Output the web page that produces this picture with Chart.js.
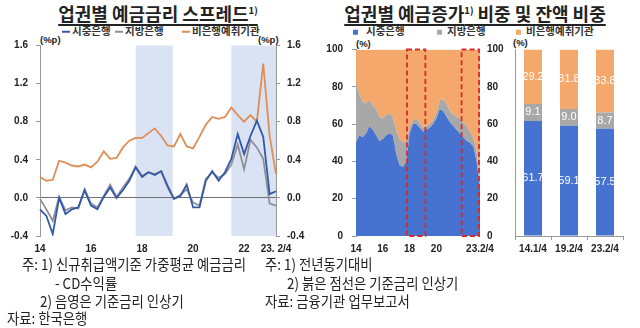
<!DOCTYPE html>
<html>
<head>
<meta charset="utf-8">
<script src="https://cdn.jsdelivr.net/npm/chart.js@4"></script>
<style>
body{margin:0;width:640px;height:328px;background:#fff;position:relative;overflow:hidden;font-family:"Noto Sans CJK KR",sans-serif;color:#222}
canvas{position:absolute;top:0}
.t{position:absolute;white-space:nowrap;line-height:1}
.title{font-size:18px;font-weight:700;text-decoration:underline;text-decoration-thickness:1.5px;text-underline-offset:3px;transform:translate(-50%,-50%)}
.title sup{font-size:9.5px;vertical-align:7px;text-decoration:none}
.leg{font-size:10.5px;font-weight:700;color:#333;transform:translateY(-50%)}
.leg i{display:inline-block;vertical-align:middle;margin-right:2px}
.unit{font-family:"Liberation Sans",Arial,sans-serif;font-size:9.5px;font-weight:700;transform:translateY(-50%)}
.note{font-size:15px;transform:translateY(-50%) scaleX(.89);transform-origin:0 50%}
</style>
</head>
<body>
<div class="t title" style="left:158px;top:13px">업권별 예금금리 스프레드<sup>1)</sup></div>
<div class="t title" style="left:475px;top:13px">업권별 예금증가<sup>1)</sup> 비중 및 잔액 비중</div>

<div class="t leg" style="left:62px;top:31px"><i style="width:8px;height:2px;background:#3458a8"></i>시중은행</div>
<div class="t leg" style="left:115px;top:31px"><i style="width:8px;height:2px;background:#8e9096"></i>지방은행</div>
<div class="t leg" style="left:182px;top:31px"><i style="width:8px;height:2px;background:#e08e57"></i>비은행예취기관</div>

<div class="t leg" style="left:353px;top:31px"><i style="width:5px;height:5px;background:#4673cf;margin-right:8px"></i>시중은행</div>
<div class="t leg" style="left:437px;top:31px"><i style="width:5px;height:5px;background:#a8a8a8;margin-right:5px"></i>지방은행</div>
<div class="t leg" style="left:516px;top:31px"><i style="width:5px;height:5px;background:#f4a86c;margin-right:5px"></i>비은행예취기관</div>

<div class="t unit" style="left:40px;top:40px">(%p)</div>
<div class="t unit" style="left:258px;top:40px">(%p)</div>
<div class="t unit" style="left:356px;top:44px">(%)</div>
<div class="t unit" style="left:513px;top:43px">(%)</div>

<canvas id="spread" width="310" height="256"></canvas>
<canvas id="share" width="200" height="256" style="left:310px"></canvas>
<canvas id="balance" width="135" height="256" style="left:505px"></canvas>

<div class="t note" style="left:22px;top:263px">주: 1) 신규취급액기준 가중평균 예금금리</div>
<div class="t note" style="left:55px;top:282px">- CD수익률</div>
<div class="t note" style="left:40px;top:300px">2) 음영은 기준금리 인상기</div>
<div class="t note" style="left:7px;top:317px">자료: 한국은행</div>
<div class="t note" style="left:265px;top:263px">주: 1) 전년동기대비</div>
<div class="t note" style="left:287px;top:282px">2) 붉은 점선은 기준금리 인상기</div>
<div class="t note" style="left:265px;top:300px">자료: 금융기관 업무보고서</div>

<script>
const quarters = ['14.1/4','14.2/4','14.3/4','14.4/4','15.1/4','15.2/4','15.3/4','15.4/4',
  '16.1/4','16.2/4','16.3/4','16.4/4','17.1/4','17.2/4','17.3/4','17.4/4',
  '18.1/4','18.2/4','18.3/4','18.4/4','19.1/4','19.2/4','19.3/4','19.4/4',
  '20.1/4','20.2/4','20.3/4','20.4/4','21.1/4','21.2/4','21.3/4','21.4/4',
  '22.1/4','22.2/4','22.3/4','22.4/4','23.1/4','23.2/4'];

// 예금금리 스프레드 (%p)
const spreadCommercial = [-0.12,-0.19,-0.38,0.00,-0.17,-0.12,-0.10,0.08,-0.08,-0.12,0.01,0.11,0.00,0.08,0.18,0.32,
  0.22,0.27,0.24,0.28,0.13,-0.01,0.02,0.14,-0.10,-0.10,0.18,0.28,0.18,0.27,0.41,0.67,0.46,0.65,0.81,0.64,0.04,0.07];
const spreadRegional = [-0.01,-0.12,-0.24,0.01,-0.13,-0.10,-0.11,0.09,-0.06,-0.10,0.02,0.14,0.01,0.11,0.20,0.33,
  0.23,0.27,0.25,0.28,0.11,-0.01,0.03,0.09,-0.05,-0.08,0.20,0.27,0.21,0.25,0.35,0.56,0.30,0.61,0.53,0.41,-0.06,-0.08];
const spreadNonBank = [0.22,0.18,0.19,0.39,0.37,0.34,0.33,0.35,0.32,0.38,0.49,0.41,0.42,0.53,0.60,0.63,
  0.63,0.68,0.73,0.65,0.55,0.54,0.67,0.54,0.52,0.64,0.77,0.85,0.83,0.85,0.95,0.87,0.80,0.87,0.80,1.41,0.65,0.25];
const spreadTickIdx = [0, 8, 16, 24, 32, 37];
const spreadTickText = ['14', '16', '18', '20', '22', '23. 2/4'];
const hikeShade = [[15, 20.8], [30, 37]];

// 예금증가 비중 (%)
const shareCommercial = [50,54,53,55,59,57,54,51,52,54,55,54,44,38,37,40,55,60,60,58,56,57,58,60,63,68,67,64,61,59,57,55,53,51,50,48,40,25];
const shareRegional = [32,22,19,16,14,13,14,13,11,11,11,10,13,14,13,11,3,2,3,3,2,2,2,2,3,5,6,7,6,6,7,8,8,8,6,5,5,4];
const shareNonBank = [18,24,28,29,27,30,32,36,37,35,34,36,43,48,50,49,42,38,37,39,42,41,40,38,34,27,27,29,33,35,36,37,39,41,44,47,55,71];
const shareTickIdx = [0, 8, 16, 24, 37];
const shareTickText = ['14', '16', '18', '20', '23.2/4'];
const hikeBoxes = [[15.2, 21], [31.5, 37]];

// 잔액 비중 (%)
const balanceCats = ['14.1/4', '19.2/4', '23.2/4'];
const balanceCommercial = [61.7, 59.1, 57.5];
const balanceRegional = [9.1, 9.0, 8.7];
const balanceNonBank = [29.2, 31.8, 33.8];

Chart.defaults.font.family = '"Liberation Sans", Arial, sans-serif';
Chart.defaults.color = '#222';
Chart.defaults.animation = false;

const tickFont = {size: 10, weight: 'bold'};
const fixWidth = w => (axis => { axis.width = w; });
const fixHeight = h => (axis => { axis.height = h; });

const shadePlugin = {
  id: 'shade',
  beforeDraw(chart) {
    const {ctx, chartArea: a, scales: {x}} = chart;
    ctx.save();
    ctx.fillStyle = '#dae3f3';
    hikeShade.forEach(([s, e]) => {
      const x0 = x.getPixelForValue(s), x1 = x.getPixelForValue(e);
      ctx.fillRect(x0, a.top, x1 - x0, a.bottom - a.top);
    });
    ctx.restore();
  }
};

const boxPlugin = {
  id: 'boxes',
  afterDatasetsDraw(chart) {
    const {ctx, chartArea: a, scales: {x}} = chart;
    ctx.save();
    ctx.strokeStyle = '#d62a2a';
    ctx.lineWidth = 1.8;
    ctx.setLineDash([5, 3]);
    hikeBoxes.forEach(([s, e]) => {
      const x0 = x.getPixelForValue(s), x1 = x.getPixelForValue(e);
      ctx.strokeRect(x0, a.top, x1 - x0 - 1, a.bottom - a.top);
    });
    ctx.restore();
  }
};

const barLabelPlugin = {
  id: 'barLabels',
  afterDatasetsDraw(chart) {
    const ctx = chart.ctx;
    ctx.save();
    ctx.fillStyle = '#fff';
    ctx.font = '11px "Liberation Sans", Arial, sans-serif';
    ctx.textAlign = 'center';
    ctx.textBaseline = 'middle';
    chart.data.datasets.forEach((ds, di) => {
      chart.getDatasetMeta(di).data.forEach((bar, i) => {
        ctx.fillText(ds.data[i].toFixed(1), bar.x, (bar.y + bar.base) / 2);
      });
    });
    ctx.restore();
  }
};

const lineDs = (label, data, color) => ({
  label, data, borderColor: color, borderWidth: 1.8, pointRadius: 0, tension: 0, fill: false
});

new Chart(document.getElementById('spread'), {
  type: 'line',
  data: {
    labels: quarters,
    datasets: [
      lineDs('시중은행', spreadCommercial, '#3458a8'),
      lineDs('지방은행', spreadRegional, '#8e9096'),
      lineDs('비은행예취기관', spreadNonBank, '#e08e57')
    ]
  },
  options: {
    responsive: false,
    layout: {padding: {top: 45.5}},
    plugins: {legend: {display: false}, tooltip: {enabled: false}},
    scales: {
      x: {
        afterFit: fixHeight(20),
        grid: {display: false, drawTicks: false},
        border: {display: false},
        ticks: {
          autoSkip: false, maxRotation: 0, padding: 7, font: tickFont,
          callback: (v, i) => {
            const k = spreadTickIdx.indexOf(i);
            return k < 0 ? '' : spreadTickText[k];
          }
        }
      },
      y: {
        min: -0.4, max: 1.6,
        afterFit: fixWidth(40),
        border: {color: '#999'},
        grid: {
          color: c => c.tick && c.tick.value === 0 ? '#6f6f6f' : 'rgba(0,0,0,0)',
          tickColor: '#999', tickLength: 4
        },
        ticks: {stepSize: 0.4, padding: 8, font: tickFont, callback: v => v.toFixed(1)}
      },
      y2: {
        position: 'right', min: -0.4, max: 1.6,
        afterFit: fixWidth(34),
        border: {color: '#999'},
        grid: {drawOnChartArea: false, tickColor: '#999', tickLength: 4},
        ticks: {stepSize: 0.4, padding: 7, font: tickFont, callback: v => v.toFixed(1)}
      }
    }
  },
  plugins: [shadePlugin]
});

const areaDs = (label, data, color, fill) => ({
  label, data, backgroundColor: color, borderColor: color, borderWidth: 0,
  pointRadius: 0, fill, tension: 0
});

new Chart(document.getElementById('share'), {
  type: 'line',
  data: {
    labels: quarters,
    datasets: [
      areaDs('시중은행', shareCommercial, '#4673cf', 'origin'),
      areaDs('지방은행', shareRegional, '#a8a8a8', '-1'),
      areaDs('비은행예취기관', shareNonBank, '#f4a86c', '-1')
    ]
  },
  options: {
    responsive: false,
    layout: {padding: {top: 49.5}},
    plugins: {legend: {display: false}, tooltip: {enabled: false}},
    scales: {
      x: {
        afterFit: fixHeight(20),
        grid: {display: false, drawTicks: false},
        border: {display: false},
        ticks: {
          autoSkip: false, maxRotation: 0, padding: 7, font: tickFont,
          callback: (v, i) => {
            const k = shareTickIdx.indexOf(i);
            return k < 0 ? '' : shareTickText[k];
          }
        }
      },
      y: {
        stacked: true, min: 0, max: 100,
        afterFit: fixWidth(46),
        border: {color: '#999'},
        grid: {drawOnChartArea: false, tickColor: '#999', tickLength: 4},
        ticks: {stepSize: 20, padding: 9, font: tickFont}
      },
      y2: {
        position: 'right', min: 0, max: 100,
        afterFit: fixWidth(30),
        border: {display: false},
        grid: {drawOnChartArea: false, drawTicks: false},
        ticks: {stepSize: 20, padding: 7, font: tickFont}
      }
    }
  },
  plugins: [boxPlugin]
});

new Chart(document.getElementById('balance'), {
  type: 'bar',
  data: {
    labels: balanceCats,
    datasets: [
      {label: '시중은행', data: balanceCommercial, backgroundColor: '#4673cf'},
      {label: '지방은행', data: balanceRegional, backgroundColor: '#a8a8a8'},
      {label: '비은행예취기관', data: balanceNonBank, backgroundColor: '#f4a86c'}
    ]
  },
  options: {
    responsive: false,
    layout: {padding: {top: 49.5, right: 17}},
    barPercentage: 0.5,
    categoryPercentage: 1,
    plugins: {legend: {display: false}, tooltip: {enabled: false}},
    scales: {
      x: {
        stacked: true,
        afterFit: fixHeight(20),
        border: {color: '#999'},
        grid: {drawOnChartArea: false, tickColor: '#999', tickLength: 4},
        ticks: {maxRotation: 0, padding: 3, font: tickFont}
      },
      y: {
        stacked: true, min: 0, max: 100,
        afterFit: fixWidth(10),
        border: {color: '#999'},
        grid: {drawOnChartArea: false, drawTicks: false},
        ticks: {display: false, stepSize: 20}
      }
    }
  },
  plugins: [barLabelPlugin]
});
</script>
</body>
</html>
